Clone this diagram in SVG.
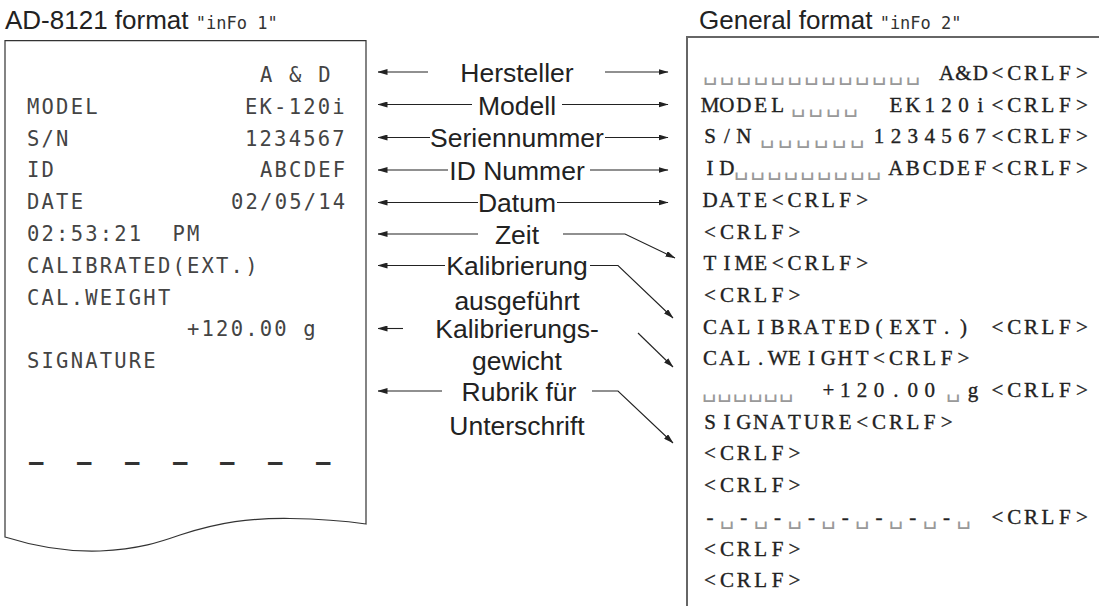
<svg xmlns="http://www.w3.org/2000/svg" width="1099" height="606" viewBox="0 0 1099 606">
<style>
.title{font-family:"Liberation Sans",Arial,sans-serif;font-size:26px;fill:#222}
.seg{font-family:"DejaVu Sans Mono",monospace;font-size:17px;fill:#333}
.dm{font-family:"DejaVu Sans Mono",monospace;font-size:20.5px;letter-spacing:2.2px;fill:#444}
.lbl{font-family:"Liberation Sans",Arial,sans-serif;font-size:26.5px;fill:#222;text-anchor:middle}
.gf{font-family:"Liberation Serif","Times New Roman",serif;font-size:21px;fill:#222;stroke:#222;stroke-width:0.35;text-anchor:middle}
.box{font-family:"DejaVu Sans",sans-serif;font-size:23px;fill:#999;stroke:none;text-anchor:middle}
.frame{fill:#fff;stroke:#333;stroke-width:1.2}
.pframe{fill:none;stroke:#666;stroke-width:2}
.con{fill:none;stroke:#222;stroke-width:1.1}
</style>
<defs>
<marker id="ah" markerWidth="10" markerHeight="6" refX="9.5" refY="3" orient="auto" markerUnits="userSpaceOnUse"><path d="M0,0 L10,3 L0,6 z" fill="#222"/></marker>
</defs>
<rect width="1099" height="606" fill="#fff"/>

<g id="title-left"><text class="title" x="5" y="29" xml:space="preserve">AD-8121 format <tspan class="seg">"inFo 1"</tspan></text></g>
<g id="title-right"><text class="title" x="699" y="29" xml:space="preserve">General format <tspan class="seg">"inFo 2"</tspan></text></g>

<g id="printout">
<path class="frame" d="M5,40.7 H366 V524 C345,521 320,519 290,518.5 C250,518 220,522 180,535 C160,542 140,549 100,551 C70,552 40,548 5,537 Z"/>
<text class="dm" x="260" y="82" xml:space="preserve">A &amp; D</text>
<text class="dm" x="27" y="113.8">MODEL</text><text class="dm" x="245" y="113.8">EK-120i</text>
<text class="dm" x="27" y="145.6">S/N</text><text class="dm" x="245" y="145.6">1234567</text>
<text class="dm" x="27" y="177.4">ID</text><text class="dm" x="260" y="177.4">ABCDEF</text>
<text class="dm" x="27" y="209.2">DATE</text><text class="dm" x="231" y="209.2">02/05/14</text>
<text class="dm" x="27" y="241">02:53:21</text><text class="dm" x="172.5" y="241">PM</text>
<text class="dm" x="27" y="272.8">CALIBRATED(EXT.)</text>
<text class="dm" x="27" y="304.6">CAL.WEIGHT</text>
<text class="dm" x="187" y="336.4" xml:space="preserve">+120.00 g</text>
<text class="dm" x="27" y="368.2">SIGNATURE</text>
<text class="dm" x="29 77 125 173 220 268 316" y="470" style="font-size:24px;font-weight:bold;letter-spacing:0;fill:#333">–––––––</text>
</g>

<g id="general-format">
<path class="pframe" d="M687,606 V37 H1099"/>
<text class="box" x="710 726.9 743.8 760.7 777.6 794.5 811.4 828.3 845.2 862.1 879 895.9 912.8" y="80">␣␣␣␣␣␣␣␣␣␣␣␣␣</text>
<text class="gf" x="946.6 963.5 980.4 997.3 1014.2 1031.1 1048 1064.9 1081.8" y="80">A&amp;D&lt;CRLF&gt;</text>
<text class="gf" x="710 726.9 743.8 760.7 777.6" y="111.7">MODEL</text>
<text class="box" x="798 815.5 833 850.5" y="111.7">␣␣␣␣</text>
<text class="gf" x="895.9 912.8 929.7 946.6 963.5 980.4 997.3 1014.2 1031.1 1048 1064.9 1081.8" y="111.7">EK120i&lt;CRLF&gt;</text>
<text class="gf" x="710 726.9 743.8" y="143.4">S/N</text>
<text class="box" x="767 785 803 821 839 857" y="143.4">␣␣␣␣␣␣</text>
<text class="gf" x="879 895.9 912.8 929.7 946.6 963.5 980.4 997.3 1014.2 1031.1 1048 1064.9 1081.8" y="143.4">1234567&lt;CRLF&gt;</text>
<text class="gf" x="710 726.9" y="175.1">ID</text>
<text class="box" x="741 757.6 774.2 790.8 807.4 824 840.6 857.2 873.8" y="175.1">␣␣␣␣␣␣␣␣␣</text>
<text class="gf" x="895.9 912.8 929.7 946.6 963.5 980.4 997.3 1014.2 1031.1 1048 1064.9 1081.8" y="175.1">ABCDEF&lt;CRLF&gt;</text>
<text class="gf" x="710 726.9 743.8 760.7 777.6 794.5 811.4 828.3 845.2 862.1" y="206.8">DATE&lt;CRLF&gt;</text>
<text class="gf" x="710 726.9 743.8 760.7 777.6 794.5" y="238.5">&lt;CRLF&gt;</text>
<text class="gf" x="710 726.9 743.8 760.7 777.6 794.5 811.4 828.3 845.2 862.1" y="270.2">TIME&lt;CRLF&gt;</text>
<text class="gf" x="710 726.9 743.8 760.7 777.6 794.5" y="301.9">&lt;CRLF&gt;</text>
<text class="gf" x="710 726.9 743.8 760.7 777.6 794.5 811.4 828.3 845.2 862.1 879 895.9 912.8 929.7 946.6 963.5" y="333.6">CALIBRATED(EXT.)</text>
<text class="gf" x="997.3 1014.2 1031.1 1048 1064.9 1081.8" y="333.6">&lt;CRLF&gt;</text>
<text class="gf" x="710 726.9 743.8 760.7 777.6 794.5 811.4 828.3 845.2 862.1 879 895.9 912.8 929.7 946.6 963.5" y="365.3">CAL.WEIGHT&lt;CRLF&gt;</text>
<text class="box" x="709 724.4 739.8 755.2 770.6 786" y="397">␣␣␣␣␣␣</text>
<text class="gf" x="828.3 845.2 862.1 879 895.9 912.8 929.7" y="397">+120.00</text>
<text class="box" x="953" y="397">␣</text>
<text class="gf" x="973 997.3 1014.2 1031.1 1048 1064.9 1081.8" y="397">g&lt;CRLF&gt;</text>
<text class="gf" x="710 726.9 743.8 760.7 777.6 794.5 811.4 828.3 845.2 862.1 879 895.9 912.8 929.7 946.6" y="428.7">SIGNATURE&lt;CRLF&gt;</text>
<text class="gf" x="710 726.9 743.8 760.7 777.6 794.5" y="460.4">&lt;CRLF&gt;</text>
<text class="gf" x="710 726.9 743.8 760.7 777.6 794.5" y="492.1">&lt;CRLF&gt;</text>
<text class="gf" y="523.8"><tspan x="710">-</tspan><tspan class="box" x="726.9">␣</tspan><tspan x="743.8">-</tspan><tspan class="box" x="760.7">␣</tspan><tspan x="777.6">-</tspan><tspan class="box" x="794.5">␣</tspan><tspan x="811.4">-</tspan><tspan class="box" x="828.3">␣</tspan><tspan x="845.2">-</tspan><tspan class="box" x="862.1">␣</tspan><tspan x="879">-</tspan><tspan class="box" x="895.9">␣</tspan><tspan x="912.8">-</tspan><tspan class="box" x="929.7">␣</tspan><tspan x="946.6">-</tspan><tspan class="box" x="963.5">␣</tspan><tspan x="997.3 1014.2 1031.1 1048 1064.9 1081.8">&lt;CRLF&gt;</tspan></text>
<text class="gf" x="710 726.9 743.8 760.7 777.6 794.5" y="555.5">&lt;CRLF&gt;</text>
<text class="gf" x="710 726.9 743.8 760.7 777.6 794.5" y="587.2">&lt;CRLF&gt;</text>
</g>

<g id="label-hersteller"><text class="lbl" x="517" y="82">Hersteller</text></g>
<g id="label-modell"><text class="lbl" x="517" y="114.5">Modell</text></g>
<g id="label-seriennummer"><text class="lbl" x="517" y="147">Seriennummer</text></g>
<g id="label-id"><text class="lbl" x="517" y="179.5">ID Nummer</text></g>
<g id="label-datum"><text class="lbl" x="517" y="212">Datum</text></g>
<g id="label-zeit"><text class="lbl" x="517" y="244">Zeit</text></g>
<g id="label-kalibrierung"><text class="lbl" x="517" y="275">Kalibrierung</text><text class="lbl" x="517" y="310">ausgeführt</text></g>
<g id="label-kalgewicht"><text class="lbl" x="517" y="338">Kalibrierungs-</text><text class="lbl" x="517" y="370">gewicht</text></g>
<g id="label-rubrik"><text class="lbl" x="519" y="401">Rubrik für</text><text class="lbl" x="517" y="435">Unterschrift</text></g>

<g id="connectors">
<line class="con" x1="428" y1="72" x2="378" y2="72" marker-end="url(#ah)"/>
<line class="con" x1="605" y1="72" x2="668" y2="72" marker-end="url(#ah)"/>
<line class="con" x1="472" y1="104.5" x2="378" y2="104.5" marker-end="url(#ah)"/>
<line class="con" x1="562" y1="104.5" x2="668" y2="104.5" marker-end="url(#ah)"/>
<line class="con" x1="430" y1="137.5" x2="378" y2="137.5" marker-end="url(#ah)"/>
<line class="con" x1="605" y1="137.5" x2="668" y2="137.5" marker-end="url(#ah)"/>
<line class="con" x1="448" y1="170" x2="378" y2="170" marker-end="url(#ah)"/>
<line class="con" x1="590" y1="170" x2="668" y2="170" marker-end="url(#ah)"/>
<line class="con" x1="478" y1="202.5" x2="378" y2="202.5" marker-end="url(#ah)"/>
<line class="con" x1="557" y1="202.5" x2="668" y2="202.5" marker-end="url(#ah)"/>
<line class="con" x1="478" y1="234" x2="378" y2="234" marker-end="url(#ah)"/>
<polyline class="con" points="563,234 625,234 675,258" marker-end="url(#ah)"/>
<line class="con" x1="445" y1="265.5" x2="378" y2="265.5" marker-end="url(#ah)"/>
<polyline class="con" points="590,265.5 618,265.5 673,318" marker-end="url(#ah)"/>
<line class="con" x1="403" y1="328.5" x2="378" y2="328.5" marker-end="url(#ah)"/>
<line class="con" x1="638" y1="333" x2="673" y2="367" marker-end="url(#ah)"/>
<line class="con" x1="442" y1="391" x2="378" y2="391" marker-end="url(#ah)"/>
<polyline class="con" points="592,391 618,391 673,443" marker-end="url(#ah)"/>
</g>
</svg>
